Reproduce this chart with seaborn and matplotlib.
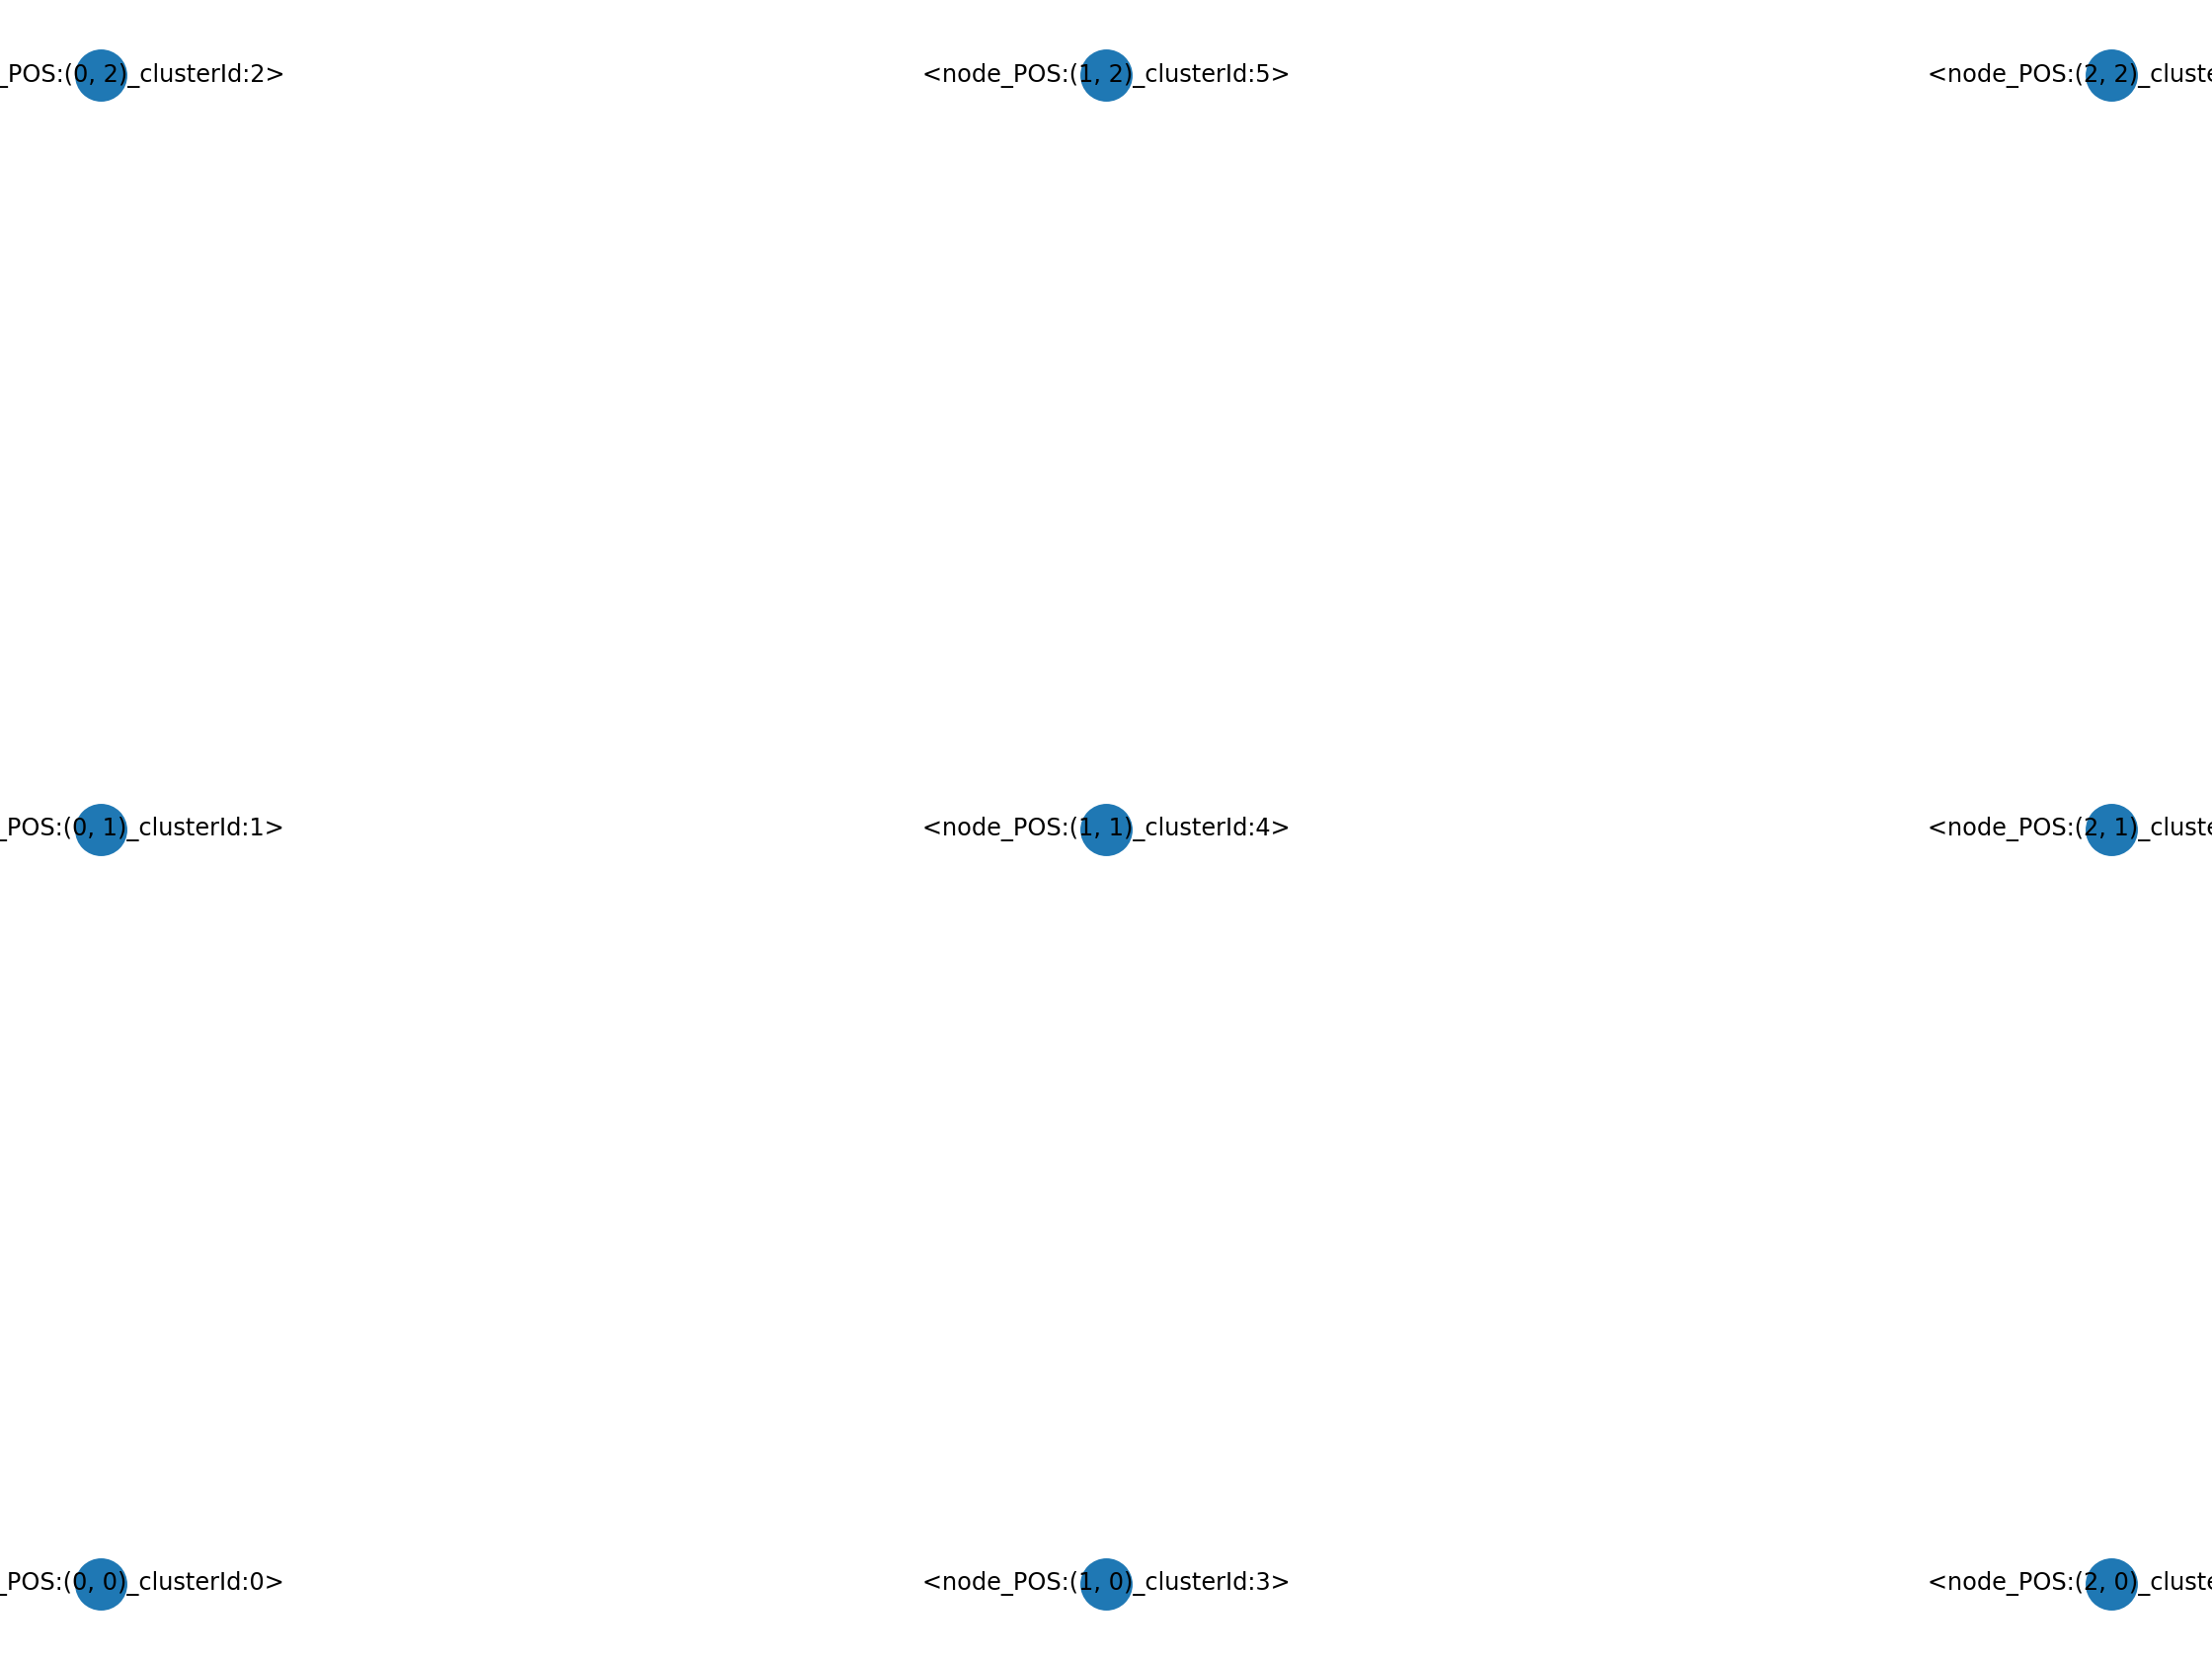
import pandas as pd
import matplotlib
matplotlib.use("Agg")
import matplotlib.pyplot as plt
import seaborn as sns

# node grid positions and their cluster ids
node_x = [0, 0, 0, 1, 1, 1, 2, 2, 2]
node_y = [0, 1, 2, 0, 1, 2, 0, 1, 2]
cluster_id = [0, 1, 2, 3, 4, 5, 6, 7, 8]
labels = [f"<node_POS:({x}, {y})_clusterId:{c}>" for x, y, c in zip(node_x, node_y, cluster_id)]

df = pd.DataFrame({"x": node_x, "y": node_y, "label": labels})

sns.set_style("white")
plt.rcParams['font.family'] = ['DejaVu Sans']

fig = plt.figure(figsize=(2240 / 144, 1680 / 144), dpi=144)
ax = fig.add_axes((0, 0, 1, 1))

sns.scatterplot(data=df, x="x", y="y", s=700, color="#1f78b4", linewidth=0, ax=ax, legend=False)

for _, row in df.iterrows():
    ax.text(row["x"], row["y"], row["label"], fontsize=12, ha="center", va="center", color="k")

ax.margins(0.05)
ax.set_axis_off()

fig.savefig("out.png", dpi=144)
